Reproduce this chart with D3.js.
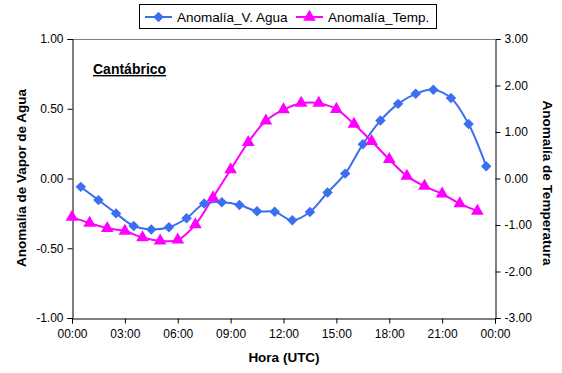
<!DOCTYPE html>
<html>
<head>
<meta charset="utf-8">
<script src="https://cdn.jsdelivr.net/npm/d3@7"></script>
<style>
  body { margin: 0; background: #fff; }
  text { font-family: Arial, "Liberation Sans", sans-serif; }
</style>
</head>
<body>
<div id="chart"></div>
<script>
// water vapour anomaly, at half hours (left axis)
var vaporHours = [0.5, 1.5, 2.5, 3.5, 4.5, 5.5, 6.5, 7.5, 8.5, 9.5, 10.5, 11.5,
                  12.5, 13.5, 14.5, 15.5, 16.5, 17.5, 18.5, 19.5, 20.5, 21.5, 22.5, 23.5];
var vaporValues = [-0.06, -0.155, -0.25, -0.34, -0.365, -0.35, -0.285, -0.18, -0.17, -0.19, -0.235, -0.238,
                   -0.30, -0.24, -0.10, 0.035, 0.245, 0.415, 0.535, 0.607, 0.637, 0.577, 0.39, 0.088];

// temperature anomaly, at full hours (right axis)
var tempHours = [0, 1, 2, 3, 4, 5, 6, 7, 8, 9, 10, 11,
                 12, 13, 14, 15, 16, 17, 18, 19, 20, 21, 22, 23];
var tempValues = [-0.83, -0.96, -1.07, -1.13, -1.27, -1.34, -1.32, -0.99, -0.41, 0.19, 0.78, 1.24,
                  1.48, 1.62, 1.62, 1.49, 1.17, 0.80, 0.41, 0.05, -0.165, -0.33, -0.54, -0.70];

var xTicks = [0, 3, 6, 9, 12, 15, 18, 21, 24];
var xTickLabels = ["00:00", "03:00", "06:00", "09:00", "12:00", "15:00", "18:00", "21:00", "00:00"];
var leftTicks = [-1, -0.5, 0, 0.5, 1];
var rightTicks = [-3, -2, -1, 0, 1, 2, 3];
var seriesNames = ["Anomalía_V. Agua", "Anomalía_Temp."];

var width = 562, height = 373;
var blue = "#3C6EF0", pink = "#FF00FF";

var x = d3.scaleLinear().domain([0, 24]).range([72, 495]);
var yLeft = d3.scaleLinear().domain([-1, 1]).range([318, 39]);
var yRight = d3.scaleLinear().domain([-3, 3]).range([318, 39]);

var svg = d3.select("#chart").append("svg")
  .attr("width", width)
  .attr("height", height);

// top border of plot area
svg.append("line")
  .attr("x1", 72).attr("x2", 495)
  .attr("y1", 39.5).attr("y2", 39.5)
  .attr("stroke", "#808080");

// plain hyphen for negatives, like the original
var fmt = function(d) { return d3.format(".2f")(d).replace("\u2212", "-"); };

svg.append("g")
  .attr("transform", "translate(72.5,0)")
  .call(d3.axisLeft(yLeft).tickValues(leftTicks).tickFormat(fmt).tickSize(5).tickPadding(4));

svg.append("g")
  .attr("transform", "translate(495.5,0)")
  .call(d3.axisRight(yRight).tickValues(rightTicks).tickFormat(fmt).tickSize(5).tickPadding(4));

svg.append("g")
  .attr("transform", "translate(0,318.5)")
  .call(d3.axisBottom(x).tickValues(xTicks)
    .tickFormat(function(d, i) { return xTickLabels[i]; })
    .tickSize(5).tickPadding(6));

svg.selectAll(".domain").attr("stroke", "#000");
svg.selectAll(".tick line").attr("stroke", "#000");
svg.selectAll(".tick text")
  .attr("font-family", "Arial, 'Liberation Sans', sans-serif")
  .attr("font-size", 12)
  .attr("fill", "#000");

// axis titles
svg.append("text")
  .attr("transform", "translate(26,178) rotate(-90)")
  .attr("text-anchor", "middle")
  .attr("font-size", 13.5).attr("font-weight", "bold")
  .text("Anomalía de Vapor de Agua");

svg.append("text")
  .attr("transform", "translate(543,183) rotate(90)")
  .attr("text-anchor", "middle")
  .attr("font-size", 13.5).attr("font-weight", "bold")
  .text("Anomalía de Temperatura");

svg.append("text")
  .attr("x", 284).attr("y", 362)
  .attr("text-anchor", "middle")
  .attr("font-size", 13.5).attr("font-weight", "bold")
  .text("Hora (UTC)");

// region label
svg.append("text")
  .attr("x", 93).attr("y", 74)
  .attr("font-size", 14).attr("font-weight", "bold")
  .attr("text-decoration", "underline")
  .text("Cantábrico");

// lines
var vaporData = vaporHours.map(function(h, i) { return [h, vaporValues[i]]; });
var tempData = tempHours.map(function(h, i) { return [h, tempValues[i]]; });

var vaporLine = d3.line()
  .x(function(d) { return x(d[0]); })
  .y(function(d) { return yLeft(d[1]); })
  .curve(d3.curveCatmullRom.alpha(0.5));

var tempLine = d3.line()
  .x(function(d) { return x(d[0]); })
  .y(function(d) { return yRight(d[1]); })
  .curve(d3.curveCatmullRom.alpha(0.5));

svg.append("path")
  .datum(vaporData)
  .attr("d", vaporLine)
  .attr("fill", "none")
  .attr("stroke", blue)
  .attr("stroke-width", 2);

svg.append("path")
  .datum(tempData)
  .attr("d", tempLine)
  .attr("fill", "none")
  .attr("stroke", pink)
  .attr("stroke-width", 2);

var diamond = d3.symbol().type(d3.symbolDiamond2).size(70);
var triangle = d3.symbol().type(d3.symbolTriangle).size(70);

svg.selectAll(".vdot")
  .data(vaporData)
  .enter()
  .append("path")
  .attr("class", "vdot")
  .attr("d", diamond)
  .attr("transform", function(d) { return "translate(" + x(d[0]) + "," + yLeft(d[1]) + ")"; })
  .attr("fill", blue);

svg.selectAll(".tdot")
  .data(tempData)
  .enter()
  .append("path")
  .attr("class", "tdot")
  .attr("d", triangle)
  .attr("transform", function(d) { return "translate(" + x(d[0]) + "," + yRight(d[1]) + ")"; })
  .attr("fill", pink);

// legend
var legend = svg.append("g");
legend.append("rect")
  .attr("x", 139.5).attr("y", 4.5)
  .attr("width", 297).attr("height", 24)
  .attr("fill", "#fff")
  .attr("stroke", "#000");

var items = [
  { name: seriesNames[0], color: blue, sym: diamond, x0: 145 },
  { name: seriesNames[1], color: pink, sym: triangle, x0: 296 }
];

items.forEach(function(it) {
  legend.append("line")
    .attr("x1", it.x0).attr("x2", it.x0 + 27)
    .attr("y1", 17).attr("y2", 17)
    .attr("stroke", it.color).attr("stroke-width", 2);
  legend.append("path")
    .attr("d", it.sym)
    .attr("transform", "translate(" + (it.x0 + 13.5) + ",17)")
    .attr("fill", it.color);
  legend.append("text")
    .attr("x", it.x0 + 32).attr("y", 22)
    .attr("font-size", 13.5)
    .text(it.name);
});
</script>
</body>
</html>
